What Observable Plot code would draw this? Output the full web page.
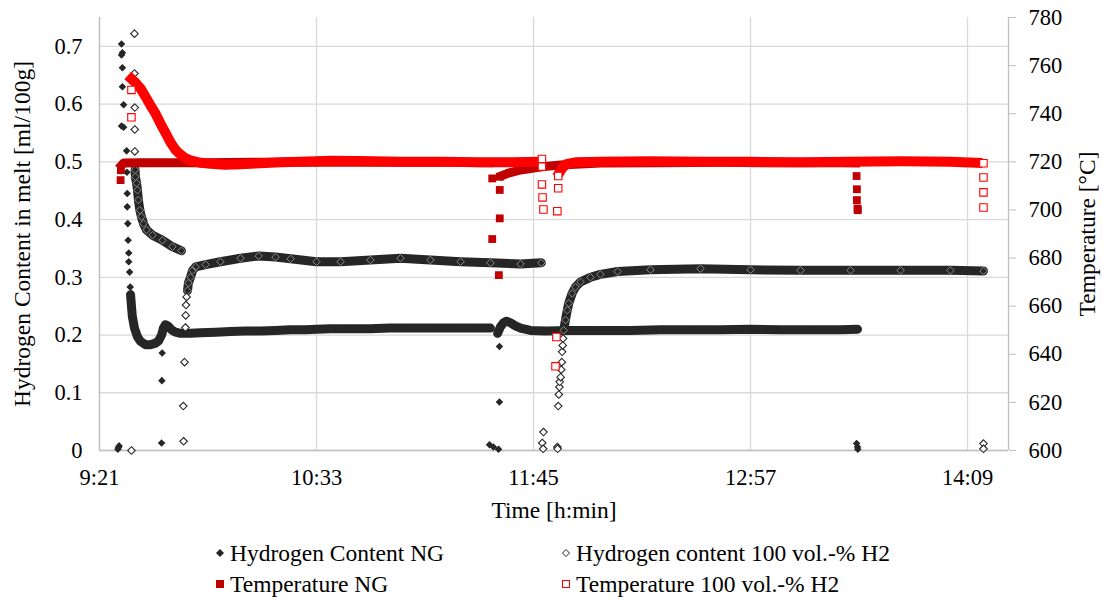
<!DOCTYPE html>
<html>
<head>
<meta charset="utf-8">
<script src="https://cdn.jsdelivr.net/npm/d3@7"></script>
<script src="https://cdn.jsdelivr.net/npm/@observablehq/plot@0.6"></script>
<style>
  html, body { margin: 0; padding: 0; background: #fff; }
  #wrap { position: relative; width: 1102px; height: 599px; font-family: "Liberation Serif", "Times New Roman", serif; color: #000; }
  .leg { position: absolute; font-size: 23.5px; line-height: 26px; white-space: nowrap; display: flex; align-items: center; transform: translateY(-50%); }
  .leg svg { margin-right: 5px; }
</style>
</head>
<body>
<div id="wrap">
  <div id="chart"></div>
</div>
<script>
// ---------------- data (time = minutes elapsed since 9:21) ----------------
const xTickValues = [0, 72, 144, 216, 288];
const xTickLabels = ["9:21", "10:33", "11:45", "12:57", "14:09"];
const leftTicks = [0, 0.1, 0.2, 0.3, 0.4, 0.5, 0.6, 0.7];
const leftTickLabels = ["0", "0.1", "0.2", "0.3", "0.4", "0.5", "0.6", "0.7"];
const tempTicks = [600, 620, 640, 660, 680, 700, 720, 740, 760, 780];

// Hydrogen Content NG
const hNG_band1 = [[10.3,0.27],[10.6,0.25],[10.9,0.232],[11.6,0.212],[12.6,0.197],[13.6,0.189],[15.3,0.183],[16.9,0.183],[18.6,0.186],[19.6,0.19],[20.6,0.2],[21.2,0.212],[21.9,0.218],[22.9,0.215],[23.9,0.209],[25.2,0.205],[26.9,0.203],[30.2,0.203],[33.5,0.204],[38.5,0.205],[43.5,0.206],[48.4,0.207],[53.4,0.207],[58.4,0.208],[63.4,0.209],[68.3,0.209],[72,0.21],[76.6,0.211],[83.3,0.211],[89.9,0.211],[96.5,0.212],[103.2,0.212],[109.8,0.212],[116.5,0.212],[123.1,0.212],[129.7,0.212]];
const hNG_band2 = [[132.1,0.203],[133.0,0.214],[134.0,0.221],[135.0,0.224],[136.4,0.221],[138.0,0.216],[139.7,0.212],[143.0,0.208],[148.0,0.207],[156.3,0.208],[166.2,0.208],[176.2,0.208],[186.1,0.209],[196.1,0.209],[206.0,0.209],[216.0,0.21],[225.9,0.209],[235.9,0.209],[245.8,0.209],[251.5,0.21]];
const hNG_points = [[6.1,0.002],[6.5,0.008],[6.3,0.005],[7.3,0.704],[7.6,0.689],[7.3,0.685],[7.6,0.663],[7.6,0.63],[8.0,0.599],[7.3,0.562],[8.0,0.56],[9.0,0.519],[9.1,0.482],[9.2,0.445],[9.2,0.422],[9.4,0.393],[9.5,0.364],[9.7,0.342],[9.7,0.327],[10.0,0.309],[10.2,0.283],[20.8,0.169],[20.7,0.121],[20.6,0.013],[129.4,0.01],[130.7,0.006],[132.4,0.002],[132.7,0.18],[132.7,0.084],[251.2,0.012],[251.5,0.006],[251.6,0.002]];

// Hydrogen content 100 vol.-% H2
const hH2_band1 = [[11.8,0.486],[11.9,0.474],[12.3,0.463],[12.6,0.451],[12.9,0.434],[13.4,0.416],[13.9,0.405],[14.6,0.393],[15.6,0.382],[17.6,0.373],[20.9,0.364],[24.2,0.353],[27.2,0.346]];
const hH2_band2 = [[29.2,0.277],[29.5,0.29],[30.2,0.3],[30.9,0.312],[31.9,0.318],[35.2,0.322],[40.1,0.327],[46.8,0.333],[52.8,0.337],[58.4,0.335],[63.4,0.332],[72,0.327],[80,0.327],[89.9,0.33],[99.9,0.333],[109.8,0.33],[119.8,0.327],[129.7,0.325],[139.7,0.323],[146.6,0.325]];
const hH2_band3 = [[154.0,0.208],[154.6,0.226],[155.2,0.243],[155.7,0.255],[156.8,0.272],[157.9,0.283],[159.6,0.292],[162.9,0.3],[166.2,0.305],[171.9,0.31],[182.8,0.313],[199.4,0.315],[216,0.313],[232.6,0.312],[249.2,0.312],[265.8,0.312],[282.3,0.312],[293.3,0.311]];
const hH2_points = [[10.6,0.0],[11.6,0.722],[11.6,0.653],[11.7,0.594],[11.7,0.556],[11.7,0.518],[27.8,0.077],[27.9,0.016],[28.2,0.153],[28.5,0.213],[28.6,0.234],[28.7,0.252],[28.9,0.266],[146.9,0.013],[147.3,0.032],[147.2,0.003],[151.9,0.006],[152.0,0.003],[152.2,0.077],[152.4,0.097],[152.6,0.11],[152.7,0.119],[153.0,0.127],[153.2,0.14],[153.4,0.153],[153.5,0.171],[153.7,0.182],[153.8,0.194],[293.3,0.012],[293.3,0.003]];

// Temperature NG (°C)
const tNG_band1 = [[7.3,718.5],[8.0,719.5],[13.6,719.6],[33.5,719.6],[53.4,719.8],[73.3,719.8],[93.2,719.8],[113.1,719.8],[129.1,719.6]];
const tNG_band2 = [[134.0,714.5],[135.4,715.2],[139.7,716.6],[147.3,718],[153,718.7],[166.2,719.5],[186.1,719.6],[206,719.8],[225.9,719.6],[245.8,719.6],[250.8,719.5]];
const tNG_points = [[7.0,712.4],[7.1,716.5],[130.3,713.1],[132.8,713.8],[132.8,708.3],[132.8,696.5],[130.3,687.9],[132.5,672.9],[251.2,714.1],[251.3,708.6],[251.3,704.1],[251.5,700.6],[251.6,699.9]];

// Temperature 100 vol.-% H2 (°C)
const tH2_band1 = [[10.6,754.5],[11.9,753],[13.6,750.5],[15.3,747],[16.9,743.5],[18.6,740],[20.2,736],[21.9,732],[23.6,728],[25.2,725],[26.9,723],[28.5,721.5],[30.2,720.6],[33.5,719.6],[36.8,719.2],[41.8,718.8],[46.8,719],[53.4,719.4],[60.1,719.8],[66.7,720],[76.6,720.5],[86.6,720.3],[99.9,720],[113.1,720],[126.4,719.8],[136.4,719.8],[145.3,720]];
const tH2_band2 = [[152.6,715.5],[153.6,717.5],[154.9,719],[157.9,719.8],[166.2,720],[182.8,720.2],[199.4,720],[216,720],[232.6,719.8],[249.2,720],[265.8,720.2],[282.3,720],[291.3,719.6]];
const tH2_points = [[10.6,749.9],[10.6,738.5],[146.8,721.2],[146.8,718],[146.8,710.6],[147.0,705.2],[147.3,700.2],[152.2,714.1],[152.2,709],[151.9,699.5],[151.6,647.2],[151.3,635],[293.3,719.4],[293.3,713.5],[293.3,707.3],[293.3,701]];

// ---------------- build ----------------
const tempToY = T => (T - 600) / 240;   // 600..780 °C  ->  0..0.75 on left scale
const rows = (arr, seg) => arr.map(([t, v]) => ({t, v, seg}));
const rowsT = (arr, seg) => arr.map(([t, v]) => ({t, v: tempToY(v), seg}));

const dark = "#262626", redDark = "#C00000", red = "#FF0000", grid = "#d9d9d9";

const hNGband = [...rows(hNG_band1, 1), ...rows(hNG_band2, 2)];
const hH2band = [...rows(hH2_band1, 1), ...rows(hH2_band2, 2), ...rows(hH2_band3, 3)];
const tNGband = [...rowsT(tNG_band1, 1), ...rowsT(tNG_band2, 2)];
const tH2band = [...rowsT(tH2_band1, 1), ...rowsT(tH2_band2, 2)];

const chart = Plot.plot({
  width: 1102,
  height: 530,
  marginLeft: 99,
  marginRight: 94,
  marginTop: 17,
  marginBottom: 80,
  style: {fontFamily: "Liberation Serif, Times New Roman, serif", fontSize: "22.5px", color: "#000", background: "#fff"},
  x: {type: "linear", domain: [0, 301.6]},
  y: {domain: [0, 0.75]},
  marks: [
    Plot.gridY(leftTicks, {stroke: grid, strokeOpacity: 1, strokeWidth: 1.3}),
    Plot.gridX(xTickValues, {stroke: grid, strokeOpacity: 1, strokeWidth: 1.3}),
    Plot.ruleX([0], {stroke: "#bfbfbf", strokeWidth: 1.3}),
    Plot.ruleY([0], {stroke: "#bfbfbf", strokeWidth: 1.3}),
    Plot.ruleX([301.6], {stroke: "#bfbfbf", strokeWidth: 1.3}),
    Plot.axisX(xTickValues, {tickSize: 0, tickPadding: 19, tickFormat: d => xTickLabels[xTickValues.indexOf(d)], label: null, fill: "#000"}),
    Plot.axisY(leftTicks, {anchor: "left", tickSize: 0, tickPadding: 17, tickFormat: d => leftTickLabels[leftTicks.indexOf(d)], label: null, fill: "#000"}),
    Plot.axisY(tempTicks.map(tempToY), {anchor: "right", tickSize: 7, tickPadding: 13, stroke: "#bfbfbf", tickFormat: d => String(Math.round(d * 240 + 600)), label: null, fill: "#000"}),
    Plot.text(["Hydrogen Content in melt [ml/100g]"], {frameAnchor: "left", textAnchor: "middle", rotate: -90, dx: -77, fontSize: 23.5, fill: "#000"}),
    Plot.text(["Temperature [°C]"], {frameAnchor: "right", textAnchor: "middle", rotate: -90, dx: 79, fontSize: 23.5, fill: "#000"}),
    Plot.text(["Time [h:min]"], {frameAnchor: "bottom", dy: 67, fontSize: 23.5, fill: "#000"}),

    // Hydrogen Content NG
    Plot.line(hNGband, {x: "t", y: "v", z: "seg", stroke: dark, strokeWidth: 9, strokeLinejoin: "round", strokeLinecap: "round"}),
    Plot.dot(hNGband, {x: "t", y: "v", symbol: "diamond2", r: 3.6, fill: dark, stroke: "none"}),
    Plot.dot(rows(hNG_points, 0), {x: "t", y: "v", symbol: "diamond2", r: 3.4, fill: dark, stroke: "none"}),

    // Hydrogen content 100 vol.-% H2
    Plot.line(hH2band, {x: "t", y: "v", z: "seg", stroke: dark, strokeWidth: 9, strokeLinejoin: "round", strokeLinecap: "round"}),
    Plot.dot(hH2band, {x: "t", y: "v", symbol: "diamond2", r: 3.4, fill: "none", stroke: "#8a8a8a", strokeWidth: 1}),
    Plot.dot(rows(hH2_points, 0), {x: "t", y: "v", symbol: "diamond2", r: 3.4, fill: "#fff", stroke: dark, strokeWidth: 1.1}),

    // Temperature NG
    Plot.line(tNGband, {x: "t", y: "v", z: "seg", stroke: redDark, strokeWidth: 9, strokeLinejoin: "round", strokeLinecap: "square"}),
    Plot.dot(rowsT(tNG_points, 0), {x: "t", y: "v", symbol: "square", r: 4.4, fill: redDark, stroke: "none"}),

    // Temperature 100 vol.-% H2
    Plot.line(tH2band, {x: "t", y: "v", z: "seg", stroke: red, strokeWidth: 10, strokeLinejoin: "round", strokeLinecap: "square"}),
    Plot.dot(rowsT(tH2_points, 0), {x: "t", y: "v", symbol: "square", r: 4.2, fill: "#fff", stroke: red, strokeWidth: 1.1})
  ]
});
document.getElementById("chart").appendChild(chart);

// ---------------- legend ----------------
const legendItems = [
  {label: "Hydrogen Content NG", x: 215, y: 553, svg: '<svg width="10" height="10"><path d="M5,1L9,5L5,9L1,5Z" fill="#262626"/></svg>'},
  {label: "Hydrogen content 100 vol.-% H2", x: 561, y: 553, svg: '<svg width="10" height="10"><path d="M5,1.5L8.5,5L5,8.5L1.5,5Z" fill="#fff" stroke="#262626" stroke-width="1"/></svg>'},
  {label: "Temperature NG", x: 215, y: 584, svg: '<svg width="10" height="10"><rect x="1" y="1" width="8" height="8" fill="#C00000"/></svg>'},
  {label: "Temperature 100 vol.-% H2", x: 561, y: 584, svg: '<svg width="10" height="10"><rect x="1.5" y="1.5" width="7" height="7" fill="#fff" stroke="#FF0000" stroke-width="1"/></svg>'}
];
const wrap = document.getElementById("wrap");
for (const it of legendItems) {
  const d = document.createElement("div");
  d.className = "leg";
  d.style.left = it.x + "px";
  d.style.top = it.y + "px";
  d.innerHTML = it.svg + "<span>" + it.label + "</span>";
  wrap.appendChild(d);
}
</script>
</body>
</html>
